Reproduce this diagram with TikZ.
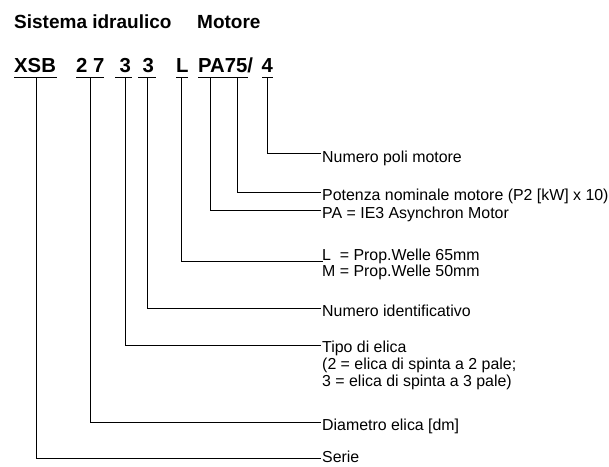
\documentclass[tikz,border=0pt]{standalone}
\usepackage{fontspec}
\setmainfont{Liberation Sans}
\begin{document}
\begin{tikzpicture}[x=1pt,y=-1pt,
  lbl/.style={anchor=base west,inner sep=0pt,font=\fontsize{15.9}{16.7}\selectfont},
  code/.style={anchor=base west,inner sep=0pt,font=\fontsize{20.3}{24}\selectfont\bfseries},
  head/.style={anchor=base west,inner sep=0pt,font=\fontsize{19}{23}\selectfont\bfseries},
  conn/.style={line width=0.9pt,black},
  uline/.style={line width=1.3pt,black}]
\useasboundingbox (0,0) rectangle (609,466);
% header
\node[head] (h1) at (14,28.3) {Sistema idraulico};
\node[head] (h2) at (197,28.3) {Motore};
% code row
\node[code] (cX) at (14,72.7) {XSB};
\node[code] (c27) at (76,72.7) {2 7};
\node[code] (c3a) at (119.5,72.7) {3};
\node[code] (c3b) at (142.5,72.7) {3};
\node[code] (cL) at (176,72.7) {L};
\node[code] (cPA) at (198,72.7) {PA75/};
\node[code] (c4) at (261.5,72.7) {4};
% underlines
\draw[uline] (14,77.3) -- (57,77.3);
\draw[uline] (76,77.3) -- (104,77.3);
\draw[uline] (115,77.3) -- (132,77.3);
\draw[uline] (138,77.3) -- (156,77.3);
\draw[uline] (176,77.3) -- (188,77.3);
\draw[uline] (198,77.3) -- (248,77.3);
\draw[uline] (262,77.3) -- (273,77.3);
% connector tops
\coordinate (uX) at (36.7,77.3);
\coordinate (u27) at (90.5,77.3);
\coordinate (u3a) at (125.3,77.3);
\coordinate (u3b) at (147.7,77.3);
\coordinate (uL) at (181.7,77.3);
\coordinate (uPA) at (210.7,77.3);
\coordinate (u75) at (237.7,77.3);
\coordinate (u4) at (267.7,77.3);
% connector ends
\coordinate (e4) at (321,153.7);
\coordinate (e75) at (321,192);
\coordinate (ePA) at (321,210);
\coordinate (eL) at (322.5,261.5);
\coordinate (e3b) at (321,308.7);
\coordinate (e3a) at (321,345.3);
\coordinate (e27) at (321,422.5);
\coordinate (eX) at (321,458.8);
% labels
\node[lbl] (t4) at (322,162.3) {Numero poli motore};
\node[lbl] (t75) at (322,200.7) {Potenza nominale motore (P2 [kW] x 10)};
\node[lbl] (tPA) at (322,218.3) {PA = IE3 Asynchron Motor};
\node[lbl] (tL1) at (322,260) {L\ \ = Prop.Welle 65mm};
\node[lbl] (tL2) at (322,276.7) {M = Prop.Welle 50mm};
\node[lbl] (t3b) at (322,316.7) {Numero identificativo};
\node[lbl] (t3a1) at (322,352.7) {Tipo di elica};
\node[lbl] (t3a2) at (322,369.3) {(2 = elica di spinta a 2 pale;};
\node[lbl] (t3a3) at (322,386) {3 = elica di spinta a 3 pale)};
\node[lbl] (t27) at (322,430) {Diametro elica [dm]};
\node[lbl] (tX) at (322,462.5) {Serie};
% connectors
\draw[conn] (u4) |- (e4);
\draw[conn] (u75) |- (e75);
\draw[conn] (uPA) |- (ePA);
\draw[conn] (uL) |- (eL);
\draw[conn] (u3b) |- (e3b);
\draw[conn] (u3a) |- (e3a);
\draw[conn] (u27) |- (e27);
\draw[conn] (uX) |- (eX);
\end{tikzpicture}
\end{document}
